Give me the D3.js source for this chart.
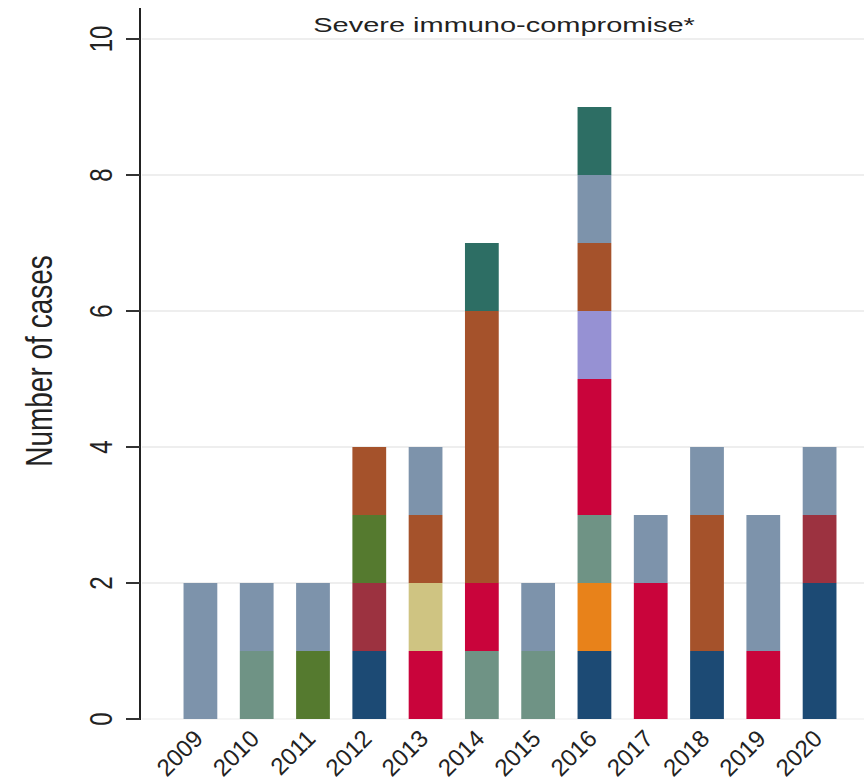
<!DOCTYPE html>
<html>
<head>
<meta charset="utf-8">
<script src="https://cdn.jsdelivr.net/npm/d3@7"></script>
<style>
  html, body { margin: 0; padding: 0; background: #fff; }
  svg { display: block; }
  text { font-family: "Liberation Sans", Arial, sans-serif; fill: #222; }
</style>
</head>
<body>
<svg width="864" height="782"></svg>
<script>
"use strict";

// years on the x axis
const years = ["2009", "2010", "2011", "2012", "2013", "2014", "2015", "2016", "2017", "2018", "2019", "2020"];

// one array per stacked category (bottom to top), cases per year
const darkBlue = [0, 0, 0, 1, 0, 0, 0, 1, 0, 1, 0, 2];
const darkRed = [0, 0, 0, 1, 0, 0, 0, 0, 0, 0, 0, 1];
const orange = [0, 0, 0, 0, 0, 0, 0, 1, 0, 0, 0, 0];
const olive = [0, 0, 1, 1, 0, 0, 0, 0, 0, 0, 0, 0];
const sage = [0, 1, 0, 0, 0, 1, 1, 1, 0, 0, 0, 0];
const crimson = [0, 0, 0, 0, 1, 1, 0, 2, 2, 0, 1, 0];
const khaki = [0, 0, 0, 0, 1, 0, 0, 0, 0, 0, 0, 0];
const lavender = [0, 0, 0, 0, 0, 0, 0, 1, 0, 0, 0, 0];
const rust = [0, 0, 0, 1, 1, 4, 0, 1, 0, 2, 0, 0];
const steel = [2, 1, 1, 0, 1, 0, 1, 1, 1, 1, 2, 1];
const teal = [0, 0, 0, 0, 0, 1, 0, 1, 0, 0, 0, 0];

const yTicks = [0, 2, 4, 6, 8, 10];

const seriesList = [
  { key: "darkBlue", values: darkBlue, color: "#1c4a74" },
  { key: "darkRed", values: darkRed, color: "#9c3240" },
  { key: "orange", values: orange, color: "#e8821a" },
  { key: "olive", values: olive, color: "#557a2f" },
  { key: "sage", values: sage, color: "#6f9385" },
  { key: "crimson", values: crimson, color: "#c9043b" },
  { key: "khaki", values: khaki, color: "#cfc482" },
  { key: "lavender", values: lavender, color: "#9691d3" },
  { key: "rust", values: rust, color: "#a5522b" },
  { key: "steel", values: steel, color: "#7d93ab" },
  { key: "teal", values: teal, color: "#2d6e64" }
];

// rows for d3.stack
const table = years.map((yr, i) => {
  const row = { year: yr };
  seriesList.forEach((s) => { row[s.key] = s.values[i]; });
  return row;
});

const keys = seriesList.map((s) => s.key);
const color = d3.scaleOrdinal().domain(keys).range(seriesList.map((s) => s.color));
const stacked = d3.stack().keys(keys)(table);

const svg = d3.select("svg");

// the reference's vertical texts look stretched sideways
const SX = 1.33;

const x = d3.scaleBand().domain(years).range([143, 877]).paddingInner(0.4).paddingOuter(0.72);
const y = d3.scaleLinear().domain([0, 10]).range([719, 39]);

// gridlines
svg.append("g")
  .selectAll("line")
  .data(yTicks)
  .join("line")
  .attr("x1", 142)
  .attr("x2", 864)
  .attr("y1", (d) => y(d))
  .attr("y2", (d) => y(d))
  .style("stroke", (d) => (d === 0 ? "#f2f2f2" : "#e8e8e8"))
  .style("stroke-width", "1.5px");

// stacked bars
svg.append("g")
  .selectAll("g")
  .data(stacked)
  .join("g")
  .attr("fill", (d) => color(d.key))
  .selectAll("rect")
  .data((d) => d.filter((p) => p[1] > p[0]))
  .join("rect")
  .attr("x", (d) => x(d.data.year))
  .attr("width", x.bandwidth())
  .attr("y", (d) => y(d[1]))
  .attr("height", (d) => y(d[0]) - y(d[1]));

// y axis line and ticks
svg.append("line")
  .attr("x1", 140).attr("x2", 140)
  .attr("y1", 8).attr("y2", 720)
  .style("stroke", "#222").style("stroke-width", "2px");

svg.append("g")
  .selectAll("line")
  .data(yTicks)
  .join("line")
  .attr("x1", 126).attr("x2", 140)
  .attr("y1", (d) => y(d)).attr("y2", (d) => y(d))
  .style("stroke", "#333").style("stroke-width", "2px");

svg.append("g")
  .selectAll("text")
  .data(yTicks)
  .join("text")
  .attr("transform", (d) => `translate(112,${y(d)}) scale(${SX},1) rotate(-90)`)
  .attr("text-anchor", "middle")
  .style("font-size", "24px")
  .text((d) => d);

// x tick labels at 45 degrees
svg.append("g")
  .selectAll("text")
  .data(years)
  .join("text")
  .attr("transform", (d) => `translate(${x(d) + x.bandwidth() / 2 + 4},740) rotate(-45)`)
  .attr("text-anchor", "end")
  .style("font-size", "24px")
  .text((d) => d);

// axis title
svg.append("text")
  .attr("transform", `translate(52,361) scale(${SX},1) rotate(-90)`)
  .attr("text-anchor", "middle")
  .style("font-size", "28px")
  .text("Number of cases");

// panel title
svg.append("text")
  .attr("transform", `translate(504,32) scale(1.38,1)`)
  .attr("text-anchor", "middle")
  .style("font-size", "21px")
  .text("Severe immuno-compromise*");
</script>
</body>
</html>
